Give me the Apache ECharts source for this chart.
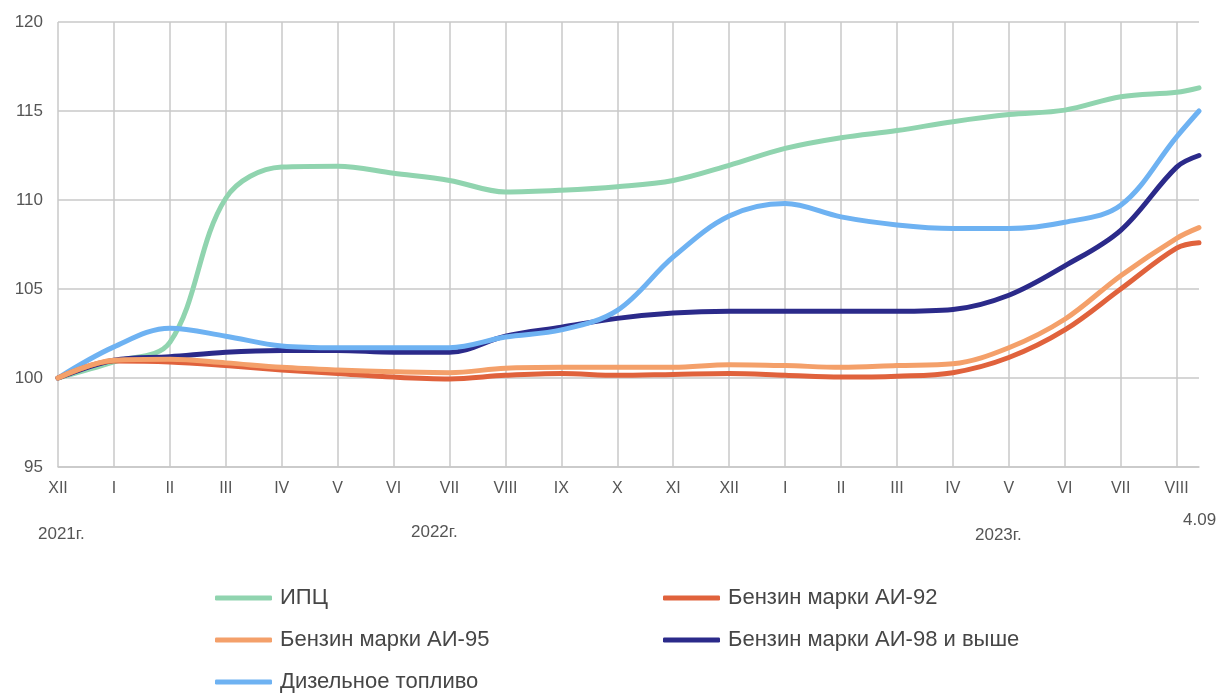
<!DOCTYPE html>
<html>
<head>
<meta charset="utf-8">
<script src="https://cdn.jsdelivr.net/npm/echarts@6/dist/echarts.min.js"></script>
<style>
  html, body { margin: 0; padding: 0; background: #fff; }
  #chart { width: 1230px; height: 693px; }
</style>
</head>
<body>
<div id="chart"></div>
<script>
// Месяцы: декабрь 2021 — август 2023, последняя точка — 4 сентября 2023
const monthLabels = ['XII', 'I', 'II', 'III', 'IV', 'V', 'VI', 'VII', 'VIII', 'IX', 'X', 'XI',
                     'XII', 'I', 'II', 'III', 'IV', 'V', 'VI', 'VII', 'VIII'];
// Положение точек на шкале месяцев (0 = декабрь 2021)
const pointMonths = [0, 1, 2, 3, 4, 5, 6, 7, 8, 9, 10, 11, 12, 13, 14, 15, 16, 17, 18, 19, 20, 20.4];

const seriesNames = ['ИПЦ', 'Бензин марки АИ-92', 'Бензин марки АИ-95', 'Бензин марки АИ-98 и выше', 'Дизельное топливо'];

// Индексы цен, декабрь 2021 = 100
const cpi    = [100, 100.9, 102.0, 110.1, 111.85, 111.9, 111.5, 111.1, 110.45, 110.55, 110.75, 111.1,
                111.95, 112.9, 113.5, 113.9, 114.4, 114.8, 115.05, 115.8, 116.05, 116.3];
const ai92   = [100, 100.95, 100.9, 100.7, 100.45, 100.25, 100.05, 99.95, 100.15, 100.25, 100.15, 100.2,
                100.25, 100.15, 100.05, 100.1, 100.3, 101.15, 102.7, 105.0, 107.3, 107.6];
const ai95   = [100, 101.0, 101.05, 100.85, 100.6, 100.45, 100.35, 100.3, 100.55, 100.6, 100.6, 100.6,
                100.75, 100.7, 100.6, 100.7, 100.8, 101.7, 103.3, 105.75, 107.85, 108.45];
const ai98   = [100, 101.0, 101.2, 101.45, 101.55, 101.55, 101.45, 101.45, 102.35, 102.85, 103.35, 103.65,
                103.75, 103.75, 103.75, 103.75, 103.85, 104.65, 106.3, 108.3, 111.85, 112.5];
const diesel = [100, 101.75, 102.8, 102.35, 101.8, 101.7, 101.7, 101.7, 102.3, 102.7, 103.8, 106.8,
                109.1, 109.8, 109.05, 108.6, 108.4, 108.4, 108.75, 109.7, 113.55, 115.0];

const yearLabels = ['2021г.', '2022г.', '2023г.'];
const endDateLabel = '4.09';

const colors = {
  'ИПЦ': '#90d4af',
  'Бензин марки АИ-92': '#e0623c',
  'Бензин марки АИ-95': '#f4a06a',
  'Бензин марки АИ-98 и выше': '#2b2a8a',
  'Дизельное топливо': '#6eb2f2'
};

function pairs(values) {
  return values.map((v, i) => [pointMonths[i], v]);
}

const valuesByName = {
  'ИПЦ': cpi,
  'Бензин марки АИ-92': ai92,
  'Бензин марки АИ-95': ai95,
  'Бензин марки АИ-98 и выше': ai98,
  'Дизельное топливо': diesel
};

// порядок отрисовки: нижние линии первыми
const drawOrder = ['ИПЦ', 'Бензин марки АИ-98 и выше', 'Дизельное топливо', 'Бензин марки АИ-92', 'Бензин марки АИ-95'];

const chart = echarts.init(document.getElementById('chart'), null, { renderer: 'canvas' });

const font = '"Liberation Sans", Arial, sans-serif';
const textColor = '#555555';

const legendCommon = {
  orient: 'vertical',
  icon: 'roundRect',
  itemWidth: 57,
  itemHeight: 5,
  itemGap: 20,
  height: 140,
  padding: 0,
  selectedMode: false,
  textStyle: { fontFamily: font, fontSize: 22, color: '#464646', padding: [0, 0, 0, 3] }
};

chart.setOption({
  backgroundColor: '#ffffff',
  animation: false,
  grid: { left: 58, right: 31, top: 22, bottom: 226, containLabel: false },
  xAxis: {
    type: 'value',
    min: 0,
    max: 20.4,
    interval: 1,
    axisLine: { show: true, lineStyle: { color: '#c8c8c8', width: 1.5 } },
    axisTick: { show: false },
    splitLine: { show: true, showMaxLine: false, lineStyle: { color: '#c8c8c8', width: 1.5 } },
    axisLabel: {
      showMaxLabel: false,
      margin: 14,
      fontFamily: font,
      fontSize: 16,
      color: textColor,
      formatter: v => (Number.isInteger(v) ? monthLabels[v] : '')
    }
  },
  yAxis: {
    type: 'value',
    min: 95,
    max: 120,
    interval: 5,
    axisLine: { show: false },
    axisTick: { show: false },
    splitLine: { show: true, lineStyle: { color: '#c8c8c8', width: 1.5 } },
    axisLabel: { margin: 15, fontFamily: font, fontSize: 17, color: textColor }
  },
  legend: [
    Object.assign({ left: 215, top: 587, data: [seriesNames[0], seriesNames[2], seriesNames[4]] }, legendCommon),
    Object.assign({ left: 663, top: 587, data: [seriesNames[1], seriesNames[3]] }, legendCommon)
  ],
  graphic: [
    { type: 'text', left: 38, top: 526, style: { text: yearLabels[0], fontFamily: font, fontSize: 17, fill: textColor } },
    { type: 'text', left: 411, top: 524, style: { text: yearLabels[1], fontFamily: font, fontSize: 17, fill: textColor } },
    { type: 'text', left: 975, top: 527, style: { text: yearLabels[2], fontFamily: font, fontSize: 17, fill: textColor } },
    { type: 'text', left: 1183, top: 512, style: { text: endDateLabel, fontFamily: font, fontSize: 17, fill: textColor } }
  ],
  series: drawOrder.map(name => ({
    name: name,
    type: 'line',
    smooth: 0.35,
    showSymbol: false,
    symbol: 'none',
    color: colors[name],
    lineStyle: { width: 5, color: colors[name], cap: 'round', join: 'round' },
    data: pairs(valuesByName[name])
  }))
});
</script>
</body>
</html>
